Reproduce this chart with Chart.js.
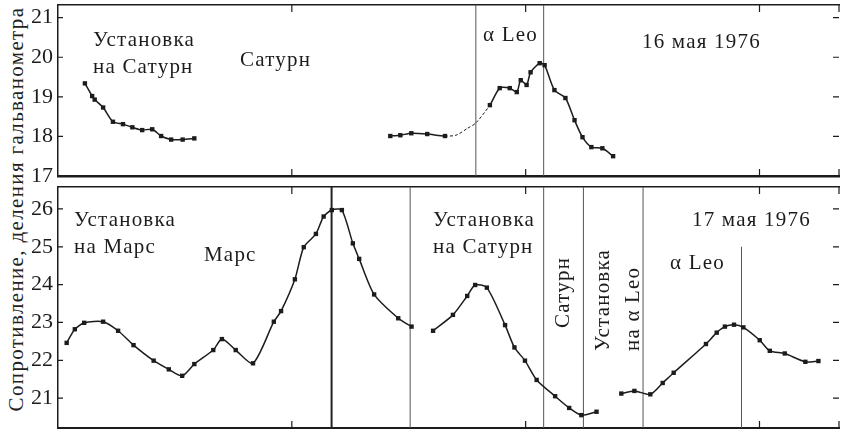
<!DOCTYPE html>
<html>
<head>
<meta charset="utf-8">
<script src="https://cdn.jsdelivr.net/npm/chart.js@4.4.1/dist/chart.umd.min.js"></script>
<style>
    html, body { margin: 0; padding: 0; background: #fff; }
    #wrap { position: relative; width: 843px; height: 432px; overflow: hidden; }
    #topBox { position: absolute; left: 0; top: 0; width: 843px; height: 192px; z-index: 2; }
    #botBox { position: absolute; left: 0; top: 180px; width: 843px; height: 252px; z-index: 1; }
    #yTitle {
        position: absolute; left: 16px; top: 209px;
        transform: translate(-50%, -50%) rotate(-90deg);
        white-space: nowrap; font: 21px "Liberation Serif"; letter-spacing: 1.35px; color: #222;
    }
</style>
</head>
<body>
<div id="wrap">
    <div id="yTitle">Сопротивление, деления гальванометра</div>
    <div id="botBox"><canvas id="botChart"></canvas></div>
    <div id="topBox"><canvas id="topChart"></canvas></div>
</div>
<script>
// 16 мая 1976 (верхняя панель)
const topSetupX = [1.15, 1.46, 1.57, 1.93, 2.35, 2.78, 3.18, 3.60, 4.03, 4.41, 4.84, 5.33, 5.83];
const topSetupY = [19.34, 19.02, 18.93, 18.73, 18.37, 18.31, 18.23, 18.16, 18.18, 18.01, 17.92, 17.92, 17.95];
const topLeoX = [14.21, 14.64, 15.11, 15.79, 16.55, 17.02, 17.53, 17.87, 18.47, 18.89, 19.32, 19.62, 19.79, 20.04,
    20.21, 20.60, 20.81, 21.23, 21.70, 22.09, 22.43, 22.81, 23.28, 23.74];
const topLeoY = [18.01, 18.03, 18.08, 18.06, 18.01, 18.03, 18.21, 18.34, 18.79, 19.22, 19.22, 19.12, 19.42, 19.30,
    19.62, 19.85, 19.80, 19.17, 18.97, 18.41, 17.98, 17.73, 17.70, 17.50];
const topLeoMarked = [1, 1, 1, 1, 1, 0, 0, 0, 1, 1, 1, 1, 1, 1, 1, 1, 1, 1, 1, 1, 1, 1, 1, 1];
const topLinesX = [17.87, 20.77];

// 17 мая 1976 (нижняя панель)
const marsX = [0.37, 0.72, 1.12, 1.93, 2.57, 3.23, 4.09, 4.74, 5.31, 5.83, 6.64, 7.01, 7.60, 8.34, 9.23, 9.54,
    10.13, 10.51, 11.03, 11.36, 11.71, 12.14, 12.61, 12.88, 13.52, 14.55, 15.12];
const marsY = [22.46, 22.82, 22.99, 23.02, 22.78, 22.40, 21.99, 21.76, 21.59, 21.90, 22.27, 22.56, 22.27, 21.92,
    23.02, 23.30, 24.14, 24.99, 25.34, 25.80, 25.97, 25.97, 25.09, 24.68, 23.74, 23.11, 22.89];
const saturnX = [16.04, 16.89, 17.50, 17.84, 18.34, 19.12, 19.52, 19.97, 20.47, 21.26, 21.86, 22.38, 23.03];
const saturnY = [22.78, 23.20, 23.70, 23.99, 23.92, 22.93, 22.34, 21.99, 21.48, 21.05, 20.74, 20.55, 20.64];
const leoX = [24.09, 24.65, 25.33, 25.86, 26.33, 27.71, 28.17, 28.52, 28.91, 29.31, 30.01, 30.44, 31.08, 31.96, 32.52];
const leoY = [21.12, 21.19, 21.10, 21.40, 21.67, 22.43, 22.73, 22.89, 22.94, 22.87, 22.53, 22.25, 22.18, 21.96, 21.98];
const botLinesX = [11.70, 15.06, 20.77, 22.47, 25.02, 29.23];
const botLinesTop = [null, null, null, null, null, 25.0];
const botLinesWidth = [2, 1, 1, 1, 1, 1];

const xRange = [0, 33.4];
const topRange = [17.0, 21.32];
const botRange = [20.21, 26.58];

const ink = '#1c1c1c';
const font = '"Liberation Serif", "DejaVu Serif", serif';

const topLabels = [
    { text: 'Установка', x: 93, y: 40 },
    { text: 'на Сатурн', x: 93, y: 67 },
    { text: 'Сатурн', x: 240, y: 60 },
    { text: 'α Leo', x: 483, y: 35 },
    { text: '16 мая 1976', x: 642, y: 42 }
];
const botLabels = [
    { text: 'Установка', x: 74, y: 40 },
    { text: 'на Марс', x: 74, y: 67 },
    { text: 'Марс', x: 204, y: 75 },
    { text: 'Установка', x: 433, y: 40 },
    { text: 'на Сатурн', x: 433, y: 67 },
    { text: 'Сатурн', x: 563, y: 148, rot: true },
    { text: 'Установка', x: 603, y: 171, rot: true },
    { text: 'на α Leo', x: 633, y: 171, rot: true },
    { text: '17 мая 1976', x: 692, y: 40 },
    { text: 'α Leo', x: 670, y: 83 }
];

const toPoints = (xs, ys) => xs.map((x, i) => ({ x, y: ys[i] }));

function curve(xs, ys, radii) {
    return {
        data: toPoints(xs, ys),
        showLine: true,
        borderColor: ink,
        borderWidth: 1.5,
        tension: 0.25,
        pointStyle: 'rect',
        pointRadius: radii || 3.1,
        pointBackgroundColor: ink,
        pointBorderWidth: 0
    };
}

function marker(x, y0, y1, width) {
    return {
        data: [{ x, y: y0 }, { x, y: y1 }],
        showLine: true,
        borderColor: width > 1 ? '#222' : '#555',
        borderWidth: width,
        pointRadius: 0
    };
}

// рамка: засечки внутрь и подписи
const framePlugin = {
    id: 'frame',
    afterDatasetsDraw(chart, args, opts) {
        const { ctx, chartArea: a, scales: { x, y } } = chart;
        ctx.save();
        ctx.strokeStyle = ink;
        ctx.lineWidth = 1.2;
        ctx.beginPath();
        x.ticks.forEach(t => {
            const px = x.getPixelForValue(t.value);
            if (px <= a.left + 2) return;
            ctx.moveTo(px, a.top); ctx.lineTo(px, a.top + 7);
            ctx.moveTo(px, a.bottom); ctx.lineTo(px, a.bottom - 7);
        });
        y.ticks.forEach(t => {
            const py = y.getPixelForValue(t.value);
            ctx.moveTo(a.left, py); ctx.lineTo(a.left + 5, py);
            ctx.moveTo(a.right, py); ctx.lineTo(a.right - 6, py);
        });
        ctx.stroke();

        ctx.fillStyle = ink;
        ctx.font = `21px ${font}`;
        ctx.letterSpacing = '1.2px';
        ctx.textBaseline = 'middle';
        ctx.textAlign = 'left';
        opts.labels.forEach(l => {
            if (l.rot) {
                ctx.save();
                ctx.translate(l.x, l.y);
                ctx.rotate(-Math.PI / 2);
                ctx.fillText(l.text, 0, 0);
                ctx.restore();
            } else {
                ctx.fillText(l.text, l.x, l.y);
            }
        });
        ctx.restore();
    }
};

function makeOptions(yRange, topGap, bottomGap, bottomWidth, labels) {
    return {
        responsive: true,
        maintainAspectRatio: false,
        animation: false,
        layout: { padding: 0 },
        plugins: {
            legend: { display: false },
            tooltip: { enabled: false },
            frame: { labels }
        },
        scales: {
            x: {
                type: 'linear',
                min: xRange[0],
                max: xRange[1],
                ticks: { display: false, stepSize: 10 },
                grid: { display: false },
                border: { display: true, color: ink, width: bottomWidth },
                afterFit: s => { s.height = bottomGap; s.paddingLeft = 0; s.paddingRight = 0; }
            },
            xTop: {
                type: 'linear',
                position: 'top',
                min: xRange[0],
                max: xRange[1],
                ticks: { display: false },
                grid: { display: false },
                border: { display: true, color: ink, width: 1.5 },
                afterFit: s => { s.height = topGap; s.paddingLeft = 0; s.paddingRight = 0; }
            },
            y: {
                min: yRange[0],
                max: yRange[1],
                ticks: {
                    stepSize: 1,
                    includeBounds: false,
                    padding: 5,
                    color: ink,
                    font: { family: font, size: 22 }
                },
                grid: { display: false, drawTicks: false },
                border: { display: true, color: ink, width: 1.5 },
                afterFit: s => { s.width = 58; s.paddingTop = 0; s.paddingBottom = 0; }
            }
        }
    };
}

new Chart(document.getElementById('topChart'), {
    type: 'scatter',
    data: {
        datasets: [
            curve(topSetupX, topSetupY),
            {
                ...curve(topLeoX, topLeoY, topLeoMarked.map(m => m ? 3.1 : 0)),
                segment: {
                    borderDash: c => (c.p0DataIndex >= 4 && c.p0DataIndex <= 7) ? [3, 2] : undefined,
                    borderWidth: c => (c.p0DataIndex >= 4 && c.p0DataIndex <= 7) ? 1 : undefined
                }
            },
            ...topLinesX.map(v => marker(v, topRange[0], topRange[1], 1))
        ]
    },
    options: makeOptions(topRange, 5, 16, 2.5, topLabels),
    plugins: [framePlugin]
});

new Chart(document.getElementById('botChart'), {
    type: 'scatter',
    data: {
        datasets: [
            curve(marsX, marsY),
            curve(saturnX, saturnY),
            curve(leoX, leoY),
            ...botLinesX.map((v, i) => marker(v, botRange[0], botLinesTop[i] ?? botRange[1], botLinesWidth[i]))
        ]
    },
    options: makeOptions(botRange, 7, 4, 2, botLabels),
    plugins: [framePlugin]
});
</script>
</body>
</html>
